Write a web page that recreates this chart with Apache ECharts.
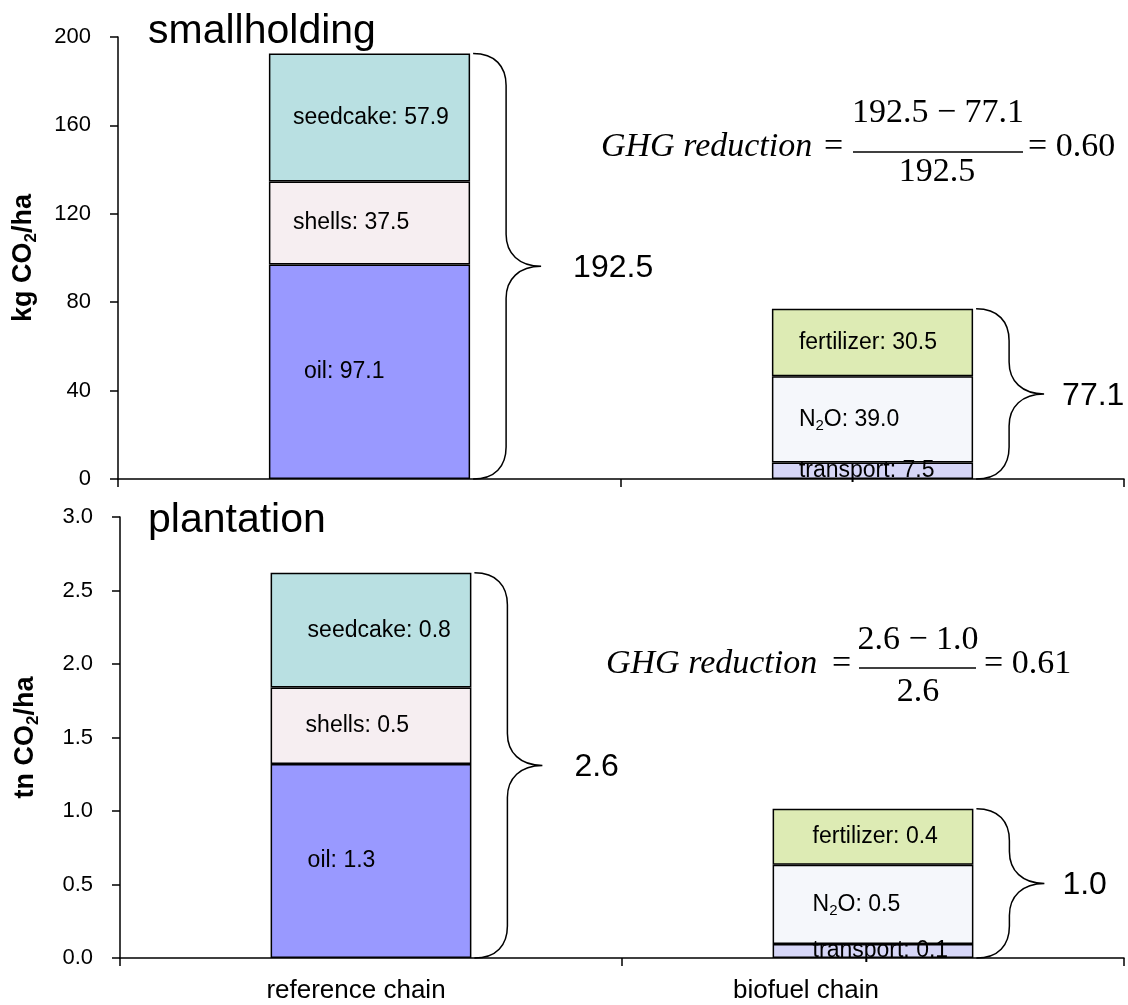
<!DOCTYPE html>
<html>
<head>
<meta charset="utf-8">
<script src="https://cdn.jsdelivr.net/npm/echarts@6/dist/echarts.min.js"></script>
<style>
  html, body { margin: 0; padding: 0; background: #fff; }
  #main { width: 1128px; height: 1005px; }
</style>
</head>
<body>
<div id="main"></div>
<script>
var chains = ['reference chain', 'biofuel chain'];

// smallholding, kg CO2/ha
var smallOil = [97.1, '-'];
var smallShells = [37.5, '-'];
var smallSeedcake = [57.9, '-'];
var smallTransport = ['-', 7.5];
var smallN2O = ['-', 39.0];
var smallFertilizer = ['-', 30.5];
var smallTotals = [192.5, 77.1];

// plantation, tn CO2/ha
var plantOil = [1.32, '-'];
var plantShells = [0.52, '-'];
var plantSeedcake = [0.78, '-'];
var plantTransport = ['-', 0.095];
var plantN2O = ['-', 0.54];
var plantFertilizer = ['-', 0.38];
var plantTotals = [2.6, 1.0];

var FONT = 'Liberation Sans, Arial, sans-serif';
var SERIF = 'Liberation Serif, Times New Roman, serif';

function num(v) { return v === '-' ? 0 : v; }

// one stacked segment
function seg(name, label, data, color, g, dist) {
    return {
        type: 'bar',
        name: name,
        xAxisIndex: g,
        yAxisIndex: g,
        stack: 'st' + g,
        barWidth: '40%',
        data: data,
        itemStyle: { color: color, borderColor: '#000', borderWidth: 1.5 },
        label: {
            show: true,
            position: 'insideLeft',
            distance: dist,
            color: '#000',
            fontSize: 23,
            fontFamily: FONT,
            lineHeight: 28,
            formatter: function (p) { return label + ': ' + p.value.toFixed(1); },
            rich: {
                sub: { fontSize: 15, lineHeight: 13, verticalAlign: 'bottom', color: '#000', fontFamily: FONT }
            }
        }
    };
}

// curly brace from 0 up to the stack top, with the total next to it
var labelGap = [100, 86];
function brace(g, stacks, totals) {
    var sums = [0, 1].map(function (i) {
        return stacks.reduce(function (a, s) { return a + num(s[i]); }, 0);
    });
    return {
        type: 'custom',
        xAxisIndex: g,
        yAxisIndex: g,
        clip: false,
        silent: true,
        z: 5,
        data: sums.map(function (s, i) { return [i, s]; }),
        renderItem: function (params, api) {
            var top = api.coord([api.value(0), api.value(1)]);
            var bot = api.coord([api.value(0), 0]);
            var band = api.size([1, 0])[0];
            var x0 = top[0] + band * 0.2 + 3;
            var y1 = top[1], y2 = bot[1], ym = (y1 + y2) / 2;
            var xv = x0 + 33, xt = x0 + 68;
            var r = Math.min(32, (y2 - y1) / 4);
            var d = [
                'M', x0, y1,
                'C', x0 + 22, y1, xv, y1 + r * 0.4, xv, y1 + r,
                'L', xv, ym - r,
                'C', xv, ym - r * 0.4, xt - 22, ym, xt, ym,
                'C', xt - 22, ym, xv, ym + r * 0.4, xv, ym + r,
                'L', xv, y2 - r,
                'C', xv, y2 - r * 0.4, x0 + 22, y2, x0, y2
            ].join(' ');
            return {
                type: 'group',
                children: [
                    { type: 'path', shape: { pathData: d }, style: { fill: null, stroke: '#000', lineWidth: 1.5 } },
                    {
                        type: 'text',
                        style: {
                            text: totals[params.dataIndex].toFixed(1),
                            x: x0 + labelGap[params.dataIndex], y: ym + 2,
                            align: 'left', verticalAlign: 'middle',
                            font: '32px ' + FONT, fill: '#000'
                        }
                    }
                ]
            };
        }
    };
}

function xAxis(g, showLabel) {
    return {
        type: 'category',
        gridIndex: g,
        data: chains,
        axisLine: { lineStyle: { color: '#000', width: 1.5 } },
        axisTick: { show: true, interval: 0, length: 8, lineStyle: { color: '#000', width: 1.5 } },
        axisLabel: {
            show: showLabel,
            margin: 20,
            color: '#000',
            fontSize: 26,
            fontFamily: FONT,
            formatter: function (v, i) { return i === 0 ? '{a|' + v + '}' : '{b|' + v + '}'; },
            rich: {
                a: { fontSize: 26, fontFamily: FONT, color: '#000', padding: [0, 30, 0, 0] },
                b: { fontSize: 26, fontFamily: FONT, color: '#000', padding: [0, 134, 0, 0] }
            }
        }
    };
}

function yAxis(g, max, step, digits, name) {
    return {
        type: 'value',
        gridIndex: g,
        min: 0,
        max: max,
        interval: step,
        name: name,
        nameLocation: 'middle',
        nameGap: 78,
        nameTextStyle: {
            color: '#000',
            fontSize: 27,
            fontWeight: 'bold',
            fontFamily: FONT,
            lineHeight: 32,
            rich: {
                sub: { fontSize: 17, fontWeight: 'bold', lineHeight: 15, verticalAlign: 'bottom', color: '#000', fontFamily: FONT }
            }
        },
        axisLine: { show: true, lineStyle: { color: '#000', width: 1.5 } },
        axisTick: { show: true, length: 8, lineStyle: { color: '#000', width: 1.5 } },
        splitLine: { show: false },
        axisLabel: {
            margin: 27,
            color: '#000',
            fontSize: 22,
            fontFamily: FONT,
            formatter: function (v) { return v.toFixed(digits); }
        }
    };
}

var chart = echarts.init(document.getElementById('main'));

var option = {
    animation: false,
    backgroundColor: '#fff',
    textStyle: { fontFamily: FONT },
    grid: [
        { left: 118, right: 4, top: 37, height: 442 },
        { left: 120, right: 4, top: 517, height: 441 }
    ],
    xAxis: [xAxis(0, false), xAxis(1, true)],
    yAxis: [
        yAxis(0, 200, 40, 0, 'kg CO{sub|2}/ha'),
        yAxis(1, 3, 0.5, 1, 'tn CO{sub|2}/ha')
    ],
    series: [
        seg('oil', 'oil', smallOil, '#9999FF', 0, 35),
        seg('shells', 'shells', smallShells, '#F6EEF1', 0, 24),
        seg('seedcake', 'seedcake', smallSeedcake, '#B9E0E2', 0, 24),
        seg('transport', 'transport', smallTransport, '#D6D6F7', 0, 27),
        seg('N2O', 'N{sub|2}O', smallN2O, '#F5F7FB', 0, 27),
        seg('fertilizer', 'fertilizer', smallFertilizer, '#DDEBB4', 0, 27),
        brace(0, [smallOil, smallShells, smallSeedcake, smallTransport, smallN2O, smallFertilizer], smallTotals),

        seg('oil', 'oil', plantOil, '#9999FF', 1, 37),
        seg('shells', 'shells', plantShells, '#F6EEF1', 1, 35),
        seg('seedcake', 'seedcake', plantSeedcake, '#B9E0E2', 1, 37),
        seg('transport', 'transport', plantTransport, '#D6D6F7', 1, 40),
        seg('N2O', 'N{sub|2}O', plantN2O, '#F5F7FB', 1, 40),
        seg('fertilizer', 'fertilizer', plantFertilizer, '#DDEBB4', 1, 40),
        brace(1, [plantOil, plantShells, plantSeedcake, plantTransport, plantN2O, plantFertilizer], plantTotals)
    ],
    graphic: [
        // panel titles
        { type: 'text', left: 148, top: 11, style: { text: 'smallholding', font: '41px ' + FONT, fill: '#000' } },
        { type: 'text', left: 148, top: 500, style: { text: 'plantation', font: '41px ' + FONT, fill: '#000' } },

        // GHG reduction, smallholding
        { type: 'text', x: 601, y: 147, style: { text: 'GHG reduction', font: 'italic 34px ' + SERIF, fill: '#000', verticalAlign: 'middle' } },
        { type: 'text', x: 824, y: 147, style: { text: '=', font: '34px ' + SERIF, fill: '#000', verticalAlign: 'middle' } },
        { type: 'text', x: 938, y: 113, style: { text: '192.5 \u2212 77.1', font: '34px ' + SERIF, fill: '#000', align: 'center', verticalAlign: 'middle' } },
        { type: 'line', shape: { x1: 853, y1: 152, x2: 1023, y2: 152 }, style: { stroke: '#000', lineWidth: 1.5 } },
        { type: 'text', x: 937, y: 172, style: { text: '192.5', font: '34px ' + SERIF, fill: '#000', align: 'center', verticalAlign: 'middle' } },
        { type: 'text', x: 1028, y: 147, style: { text: '= 0.60', font: '34px ' + SERIF, fill: '#000', verticalAlign: 'middle' } },

        // GHG reduction, plantation
        { type: 'text', x: 606, y: 664, style: { text: 'GHG reduction', font: 'italic 34px ' + SERIF, fill: '#000', verticalAlign: 'middle' } },
        { type: 'text', x: 832, y: 664, style: { text: '=', font: '34px ' + SERIF, fill: '#000', verticalAlign: 'middle' } },
        { type: 'text', x: 918, y: 640, style: { text: '2.6 \u2212 1.0', font: '34px ' + SERIF, fill: '#000', align: 'center', verticalAlign: 'middle' } },
        { type: 'line', shape: { x1: 859, y1: 668, x2: 976, y2: 668 }, style: { stroke: '#000', lineWidth: 1.5 } },
        { type: 'text', x: 918, y: 692, style: { text: '2.6', font: '34px ' + SERIF, fill: '#000', align: 'center', verticalAlign: 'middle' } },
        { type: 'text', x: 984, y: 664, style: { text: '= 0.61', font: '34px ' + SERIF, fill: '#000', verticalAlign: 'middle' } }
    ]
};

chart.setOption(option);
</script>
</body>
</html>
